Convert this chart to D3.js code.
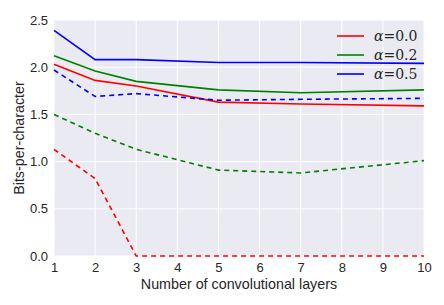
<!DOCTYPE html>
<html>
<head>
<meta charset="utf-8">
<script src="https://cdn.jsdelivr.net/npm/d3@7"></script>
<style>
  body { margin: 0; background: #fff; }
  svg { display: block; font-family: "Liberation Sans", Arial, sans-serif; }
</style>
</head>
<body>
<div id="chart"></div>
<script>
const layers = [1, 2, 3, 5, 7, 10];
const xTicks = [1, 2, 3, 4, 5, 6, 7, 8, 9, 10];
const yTicks = [0.0, 0.5, 1.0, 1.5, 2.0, 2.5];

const alphaLabels = ["0.0", "0.2", "0.5"];
const alphaColors = ["#ff0000", "#008000", "#0000ff"];

// solid lines
const solidA00 = [2.03, 1.86, 1.80, 1.63, 1.61, 1.59];
const solidA02 = [2.12, 1.96, 1.85, 1.76, 1.73, 1.76];
const solidA05 = [2.39, 2.08, 2.08, 2.05, 2.05, 2.04];
// dashed lines
const dashedA00 = [1.13, 0.82, 0.0, 0.0, 0.0, 0.0];
const dashedA02 = [1.50, 1.30, 1.13, 0.91, 0.88, 1.01];
const dashedA05 = [1.97, 1.69, 1.72, 1.65, 1.66, 1.67];

const width = 444, height = 305;
const margin = { top: 20, right: 20, bottom: 49, left: 54 };

const svg = d3.select("#chart").append("svg")
    .attr("width", width)
    .attr("height", height);

const x = d3.scaleLinear().domain([1, 10]).range([margin.left, width - margin.right]);
const y = d3.scaleLinear().domain([0, 2.5]).range([height - margin.bottom, margin.top]);

svg.append("rect")
    .attr("x", margin.left)
    .attr("y", margin.top)
    .attr("width", x(10) - x(1))
    .attr("height", y(0) - y(2.5))
    .attr("fill", "#eaeaf2");

// grid
svg.append("g").selectAll("line")
    .data(xTicks)
    .enter()
    .append("line")
    .attr("x1", d => x(d)).attr("x2", d => x(d))
    .attr("y1", y(0)).attr("y2", y(2.5))
    .attr("stroke", "#fff").attr("stroke-width", 1);

svg.append("g").selectAll("line")
    .data(yTicks)
    .enter()
    .append("line")
    .attr("x1", x(1)).attr("x2", x(10))
    .attr("y1", d => y(d)).attr("y2", d => y(d))
    .attr("stroke", "#fff").attr("stroke-width", 1);

// axes
const xAxis = svg.append("g")
    .attr("transform", `translate(0,${y(0)})`)
    .call(d3.axisBottom(x).tickValues(xTicks).tickSize(0).tickPadding(7).tickFormat(d3.format("d")));
const yAxis = svg.append("g")
    .attr("transform", `translate(${x(1)},0)`)
    .call(d3.axisLeft(y).tickValues(yTicks).tickSize(0).tickPadding(6).tickFormat(d3.format(".1f")));

[xAxis, yAxis].forEach(g => {
    g.select(".domain").remove();
    g.selectAll("text")
        .attr("fill", "#262626")
        .style("font-size", "13px")
        .style("font-family", "Liberation Sans, Arial, sans-serif");
});

// lines
const line = d3.line()
    .x((d, i) => x(layers[i]))
    .y(d => y(d));

const series = [
    { values: solidA00, color: alphaColors[0], dash: null },
    { values: solidA02, color: alphaColors[1], dash: null },
    { values: solidA05, color: alphaColors[2], dash: null },
    { values: dashedA00, color: alphaColors[0], dash: "5,4" },
    { values: dashedA02, color: alphaColors[1], dash: "5,4" },
    { values: dashedA05, color: alphaColors[2], dash: "5,4" }
];

svg.append("g").selectAll("path")
    .data(series)
    .enter()
    .append("path")
    .attr("d", d => line(d.values))
    .attr("fill", "none")
    .attr("stroke", d => d.color)
    .attr("stroke-width", 1.6)
    .attr("stroke-dasharray", d => d.dash);

// legend
const legend = svg.append("g");
alphaLabels.forEach((lab, i) => {
    const ly = 36 + i * 19;
    legend.append("line")
        .attr("x1", 337).attr("x2", 364)
        .attr("y1", ly).attr("y2", ly)
        .attr("stroke", alphaColors[i])
        .attr("stroke-width", 1.6);
    const t = legend.append("text")
        .attr("x", 374)
        .attr("y", ly + 5)
        .attr("fill", "#262626")
        .style("font-family", "DejaVu Serif, serif")
        .style("font-size", "14px");
    t.append("tspan").style("font-style", "italic").text("α");
    t.append("tspan").text("=" + lab);
});

// axis titles
svg.append("text")
    .attr("x", (x(1) + x(10)) / 2)
    .attr("y", 289)
    .attr("text-anchor", "middle")
    .attr("fill", "#262626")
    .style("font-size", "14.3px")
    .text("Number of convolutional layers");

svg.append("text")
    .attr("transform", `translate(24,${(y(0) + y(2.5)) / 2}) rotate(-90)`)
    .attr("text-anchor", "middle")
    .attr("fill", "#262626")
    .style("font-size", "14.3px")
    .text("Bits-per-character");
</script>
</body>
</html>
